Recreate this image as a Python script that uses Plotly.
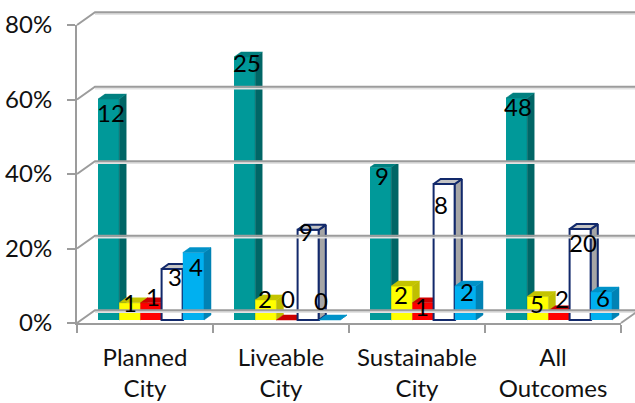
import plotly.graph_objects as go

categories = ["Planned<br>City", "Liveable<br>City", "Sustainable<br>City", "All<br>Outcomes"]
tick_values = [0, 20, 40, 60, 80]
tick_labels = ["0%", "20%", "40%", "60%", "80%"]

# Percentage heights per outcome group
teal_values = [59.3, 70.6, 41.0, 59.6]
yellow_values = [4.6, 5.4, 9.1, 6.3]
red_values = [4.6, 0.0, 4.6, 2.5]
white_values = [13.7, 24.2, 36.5, 24.4]
blue_values = [18.1, 0.0, 9.1, 7.5]

# Respondent counts printed on the bars
teal_counts = ["12", "25", "9", "48"]
yellow_counts = ["1", "2", "2", "5"]
red_counts = ["1", "0", "1", "2"]
white_counts = ["3", "9", "8", "20"]
blue_counts = ["4", "0", "2", "6"]

# Pixel geometry of the plot box and the oblique projection
LEFT, RIGHT, TOP, BOTTOM = 77, 621, 25, 323
W, H = 635, 403
PX_X = (RIGHT - LEFT) / 4
PX_Y = (BOTTOM - TOP) / 80
WALL_DX, WALL_DY = 18 / PX_X, 12.7 / PX_Y
BAR_DX, BAR_DY = 7 / PX_X, 5 / PX_Y
PLANE_Y = 3 / PX_Y
BAR_W = 21.2 / PX_X
GROUP_START = -47 / PX_X
GRID = "#9C9C9C"
GRID_SHADOW = "#E2E2E2"
NAVY = "#12296B"
FONT = "Lato"

series = [
    dict(v=teal_values, t=teal_counts, front="#009999", side="#006666", top="#008080", edge=None,
         nudge=[(2, 13), (2, 5), (1, 8), (1, 9)]),
    dict(v=yellow_values, t=yellow_counts, front="#FFFF00", side="#BFBF00", top="#C4C400", edge=None,
         nudge=[(0, 0), (-1, -1), (-1, 8), (-1, 7)]),
    dict(v=red_values, t=red_counts, front="#FF0000", side="#BF0000", top="#CC0000", edge=None,
         nudge=[(2, -6), (1, -22), (-1, 4), (3, -12)]),
    dict(v=white_values, t=white_counts, front="#FFFFFF", side="#A6A6A6", top="#C4C4C4", edge=NAVY,
         nudge=[(3, 8), (-2, 2), (-3, 20), (3, 13)]),
    dict(v=blue_values, t=blue_counts, front="#00B0F0", side="#0082B4", top="#0092C8", edge=None,
         nudge=[(3, 14), (-8, -20), (2, 5), (2, 5)]),
]

fig = go.Figure()

# Base trace that carries the category axis
fig.add_trace(go.Scatter(x=categories, y=[0, 0, 0, 0], mode="markers", marker=dict(opacity=0),
                         hoverinfo="skip", showlegend=False))

# Back wall: one slanted and one horizontal segment for every percentage level.
# It has its own full-page axes because line traces are clipped to their subplot.
wall_x, wall_y, shadow_x, shadow_y = [], [], [], []
for level in tick_values:
    wall_x += [-0.5, -0.5 + WALL_DX, 3.5 + WALL_DX, None]
    wall_y += [level, level + WALL_DY, level + WALL_DY, None]
    shadow_x += [-0.5 + WALL_DX, 3.5 + WALL_DX, None]
    shadow_y += [level + WALL_DY - 1.6 / PX_Y, level + WALL_DY - 1.6 / PX_Y, None]
wall_x += [3.5, 3.5 + WALL_DX]
wall_y += [0, WALL_DY]
fig.add_trace(go.Scatter(x=shadow_x, y=shadow_y, mode="lines", line=dict(color=GRID_SHADOW, width=2),
                         xaxis="x2", yaxis="y2", hoverinfo="skip", showlegend=False))
fig.add_trace(go.Scatter(x=wall_x, y=wall_y, mode="lines", line=dict(color=GRID, width=2),
                         xaxis="x2", yaxis="y2", hoverinfo="skip", showlegend=False))

# Each series sits on its own overlaid axis pair, painted left to right so that
# a bar's front hides the side face of its left neighbour
annotations = []
for k, s in enumerate(series):
    ax = k + 3
    xa, ya = f"x{ax}", f"y{ax}"
    offset = GROUP_START + BAR_W * k
    lefts = [i + offset for i in range(4)]
    rights = [l + BAR_W for l in lefts]
    fig.add_trace(go.Bar(
        x=[l + BAR_W / 2 for l in lefts], y=s["v"], base=[PLANE_Y] * 4, width=BAR_W,
        marker=dict(color=s["front"], line=dict(color=s["edge"] or s["front"], width=2 if s["edge"] else 0)),
        xaxis=xa, yaxis=ya, hoverinfo="skip", showlegend=False))
    for face in ("side", "top"):
        px, py = [], []
        for l, r, v in zip(lefts, rights, s["v"]):
            h = PLANE_Y + v
            if face == "side":
                px += [r, r + BAR_DX, r + BAR_DX, r, r, None]
                py += [PLANE_Y, PLANE_Y + BAR_DY, h + BAR_DY, h, PLANE_Y, None]
            else:
                px += [l, l + BAR_DX, r + BAR_DX, r, l, None]
                py += [h, h + BAR_DY, h + BAR_DY, h, h, None]
        fig.add_trace(go.Scatter(
            x=px, y=py, mode="lines", fill="toself", fillcolor=s[face],
            line=dict(color=s["edge"] or s[face], width=2 if s["edge"] else 0.5),
            xaxis=xa, yaxis=ya, hoverinfo="skip", showlegend=False))
    # Count labels go on the annotation layer so they stay above every bar face
    for l, v, txt, (dx, dy) in zip(lefts, s["v"], s["t"], s["nudge"]):
        annotations.append(dict(
            x=l + BAR_W / 2, y=PLANE_Y + v, xref=xa, yref=ya, text=txt, showarrow=False,
            xanchor="center", yanchor="middle", xshift=dx, yshift=-dy,
            font=dict(family=FONT, size=24, color="#000000")))

layout = dict(
    width=W, height=H, autosize=False,
    margin=dict(l=0, r=0, t=0, b=0, pad=0, autoexpand=False),
    paper_bgcolor="#FFFFFF", plot_bgcolor="rgba(0,0,0,0)", showlegend=False, barmode="overlay",
    font=dict(family=FONT, size=24, color="#111111"),
    annotations=annotations,
    xaxis=dict(type="category", categoryorder="array", categoryarray=categories, tickson="boundaries",
               domain=[LEFT / W, RIGHT / W],
               range=[-0.5, 3.5], showgrid=False, zeroline=False, showline=True, linecolor=GRID, linewidth=2,
               ticks="outside", ticklen=8, tickwidth=2, tickcolor=GRID, tickangle=0, ticklabelstandoff=12),
    yaxis=dict(range=[0, 80], domain=[(H - BOTTOM) / H, (H - TOP) / H], tickvals=tick_values, ticktext=tick_labels,
               showgrid=False, zeroline=False, showline=True, linecolor=GRID, linewidth=2, ticks="outside",
               ticklen=8, tickwidth=2, tickcolor=GRID, ticklabelstandoff=10),
    # Full-page axes on the same scale as the plot box
    xaxis2=dict(domain=[0, 1], range=[-0.5 - LEFT / PX_X, -0.5 + (W - LEFT) / PX_X], visible=False, anchor="y2"),
    yaxis2=dict(domain=[0, 1], range=[-(H - BOTTOM) / PX_Y, BOTTOM / PX_Y], visible=False, anchor="x2"),
)
for n in range(3, 8):
    layout[f"xaxis{n}"] = dict(overlaying="x", range=[-0.5, 3.5], visible=False)
    layout[f"yaxis{n}"] = dict(overlaying="y", range=[0, 80], visible=False)
fig.update_layout(**layout)

fig.write_html("out.html", config=dict(displayModeBar=False))
